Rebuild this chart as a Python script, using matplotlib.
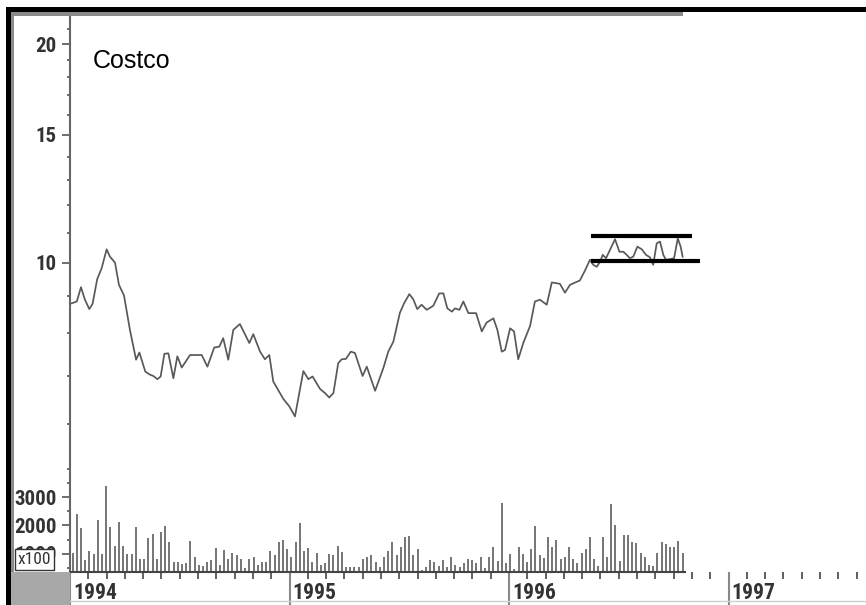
import matplotlib
matplotlib.use('Agg')
import matplotlib.pyplot as plt
import matplotlib.ticker as mticker
import matplotlib.transforms as mtransforms
from matplotlib import font_manager
from matplotlib.patches import Rectangle
from matplotlib.lines import Line2D
import numpy as np

# weekly closing prices (decimal year, price)
price_years = [
    1994.008, 1994.031, 1994.050, 1994.068, 1994.088, 1994.103, 1994.124, 1994.144,
    1994.167, 1994.182, 1994.205, 1994.223, 1994.246, 1994.273, 1994.301, 1994.316,
    1994.343, 1994.364, 1994.380, 1994.398, 1994.413, 1994.430, 1994.448, 1994.471,
    1994.489, 1994.509, 1994.547, 1994.600, 1994.626, 1994.657, 1994.680, 1994.698,
    1994.721, 1994.744, 1994.774, 1994.817, 1994.835, 1994.866, 1994.888, 1994.908,
    1994.926, 1994.972, 1994.999, 1995.025, 1995.063, 1995.086, 1995.105, 1995.139,
    1995.162, 1995.181, 1995.200, 1995.222, 1995.238, 1995.257, 1995.279, 1995.298,
    1995.333, 1995.352, 1995.390, 1995.427, 1995.450, 1995.473, 1995.503, 1995.522,
    1995.546, 1995.564, 1995.582, 1995.602, 1995.625, 1995.655, 1995.682, 1995.701,
    1995.719, 1995.740, 1995.754, 1995.774, 1995.792, 1995.815, 1995.850, 1995.876,
    1995.898, 1995.929, 1995.947, 1995.967, 1995.982, 1996.005, 1996.023, 1996.042,
    1996.065, 1996.096, 1996.118, 1996.141, 1996.172, 1996.195, 1996.232, 1996.255,
    1996.278, 1996.323, 1996.346, 1996.369, 1996.384, 1996.400, 1996.415, 1996.427,
    1996.442, 1996.460, 1996.483, 1996.503, 1996.521, 1996.536, 1996.551, 1996.566,
    1996.585, 1996.605, 1996.624, 1996.642, 1996.657, 1996.673, 1996.688, 1996.703,
    1996.715, 1996.733, 1996.752, 1996.769, 1996.782, 1996.791,
]
price_values = [
    8.80, 8.85, 9.26, 8.90, 8.64, 8.79, 9.50, 9.83,
    10.44, 10.20, 10.01, 9.33, 9.02, 8.09, 7.36, 7.53,
    7.09, 7.02, 6.99, 6.92, 6.98, 7.50, 7.51, 6.94,
    7.44, 7.18, 7.47, 7.47, 7.20, 7.65, 7.67, 7.88,
    7.36, 8.09, 8.24, 7.76, 7.98, 7.55, 7.37, 7.47,
    6.87, 6.50, 6.35, 6.15, 7.10, 6.92, 6.98, 6.71,
    6.62, 6.53, 6.62, 7.28, 7.37, 7.38, 7.55, 7.52,
    6.99, 7.20, 6.67, 7.16, 7.55, 7.79, 8.54, 8.80,
    9.06, 8.91, 8.64, 8.76, 8.62, 8.73, 9.08, 9.08,
    8.66, 8.57, 8.66, 8.62, 8.85, 8.53, 8.53, 8.05,
    8.28, 8.39, 8.09, 7.55, 7.59, 8.13, 8.05, 7.37,
    7.76, 8.19, 8.85, 8.90, 8.76, 9.40, 9.36, 9.10,
    9.33, 9.46, 9.76, 10.10, 9.94, 9.88, 10.04, 10.26,
    10.15, 10.42, 10.78, 10.36, 10.36, 10.26, 10.15, 10.20,
    10.53, 10.44, 10.26, 10.18, 9.94, 10.64, 10.70, 10.26,
    10.10, 10.12, 10.15, 10.81, 10.53, 10.20,
]

# weekly volume (x100 shares), first week of 1994 onwards
volume_first_week = 1994.012
volume = [
    1037, 2403, 1897, 777, 1096, 990, 2191, 990, 3404, 1932,
    1272, 2132, 1272, 990, 990, 1932, 813, 813, 1543, 1696,
    813, 1755, 1979, 1414, 707, 707, 636, 660, 1461, 872,
    613, 565, 707, 777, 1190, 613, 1131, 813, 1037, 942,
    813, 495, 813, 895, 589, 707, 707, 1096, 942, 1425,
    1484, 1154, 895, 1414,
    2097, 1096, 1190, 707, 1013, 589, 660, 990, 942, 1284,
    1048, 530, 530, 530, 530, 813, 895, 942, 707, 530,
    872, 1096, 1425, 954, 1225, 1579, 1626, 942, 1154, 424,
    530, 766, 707, 565, 766, 530, 872, 613, 530, 660,
    813, 766, 660, 895, 507, 872, 1225, 754, 2804, 660,
    990, 471, 1225, 990, 707, 1178, 1991, 942, 860, 1602,
    1225, 1484, 813, 895, 1249, 813, 660,
    1037, 1154, 1579, 813, 565, 1579, 895, 2745, 2003, 754,
    1661, 1661, 1414, 1366, 1037, 895, 613, 565, 1037, 1414,
    1331, 1225, 1225, 1461, 1037,
]

# trading range drawn over the last months
channel_top = 10.89
channel_bottom = 10.06
channel_top_span = (1996.372, 1996.832)
channel_bottom_span = (1996.372, 1996.870)

years = [1994, 1995, 1996, 1997]
year_labels = ['1994', '1995', '1996', '1997']


def pick_font(candidates):
    for name in candidates:
        try:
            font_manager.findfont(font_manager.FontProperties(family=name),
                                  fallback_to_default=False)
            return name
        except ValueError:
            pass
    return None


W, H = 866, 605
narrow_name = pick_font(['Liberation Sans Narrow', 'DejaVu Sans Condensed', 'Roboto Condensed'])
if narrow_name:
    tick_font = dict(family=[narrow_name, 'DejaVu Sans'], size=15, weight='bold')
    year_font = dict(family=[narrow_name, 'DejaVu Sans'], size=15.5, weight='bold')
else:
    tick_font = dict(family=['Liberation Sans', 'DejaVu Sans'], size=12.5, weight='bold')
    year_font = dict(family=['Liberation Sans', 'DejaVu Sans'], size=13, weight='bold')
label_color = '#333333'

fig = plt.figure(figsize=(W / 100, H / 100), dpi=100)
fig.patch.set_facecolor('white')

x_end = 1994 + 796 / 219.5
ax_p = fig.add_axes([70 / W, 1 - 465 / H, 796 / W, 448 / H])
ax_v = fig.add_axes([70 / W, 1 - 572 / H, 796 / W, 107 / H])

# price panel
ax_p.plot(price_years, price_values, color='#595959', lw=1.25)
ax_p.hlines([channel_top], *channel_top_span, color='black', lw=3.0)
ax_p.hlines([channel_bottom], *channel_bottom_span, color='black', lw=3.0)
ax_p.set_yscale('log')
ax_p.set_ylim(5.273, 21.79)
ax_p.set_xlim(1994, x_end)
ax_p.set_facecolor('none')
for s in ['top', 'right', 'bottom']:
    ax_p.spines[s].set_visible(False)
ax_p.spines['left'].set_color('#666666')
ax_p.spines['left'].set_linewidth(1.5)
ax_p.yaxis.set_major_locator(mticker.FixedLocator([10, 15, 20]))
ax_p.yaxis.set_major_formatter(mticker.FixedFormatter(['10', '15', '20']))
ax_p.yaxis.set_minor_locator(mticker.FixedLocator([6, 7, 8, 9, 11, 12, 13, 14, 16, 17, 18, 19, 21]))
ax_p.yaxis.set_minor_formatter(mticker.NullFormatter())
ax_p.tick_params(axis='y', which='major', length=5.5, width=1.2, color='#555555', pad=4,
                 labelcolor=label_color)
ax_p.tick_params(axis='y', which='minor', length=2.5, width=1.2, color='#555555')
ax_p.set_xticks([])
for lab in ax_p.get_yticklabels():
    lab.set_fontproperties(font_manager.FontProperties(**tick_font))

# volume panel
vol_x = volume_first_week + np.arange(len(volume)) * 7 / 365.25
ax_v.vlines(vol_x, 0, volume, color='#6a6a6a', lw=1.3)
ax_v.set_ylim(353, 4134)
ax_v.set_xlim(1994, x_end)
ax_v.set_facecolor('none')
for s in ['top', 'right']:
    ax_v.spines[s].set_visible(False)
ax_v.spines['left'].set_color('#666666')
ax_v.spines['left'].set_linewidth(1.5)
ax_v.spines['bottom'].set_color('#444444')
ax_v.spines['bottom'].set_linewidth(1.5)
ax_v.spines['bottom'].set_bounds(1994, 1996.80)
ax_v.yaxis.set_major_locator(mticker.FixedLocator([1000, 2000, 3000]))
ax_v.yaxis.set_major_formatter(mticker.FixedFormatter(['1000', '2000', '3000']))
ax_v.yaxis.set_minor_locator(mticker.FixedLocator([500, 1500, 2500, 3500, 4000]))
ax_v.tick_params(axis='y', which='major', length=5.5, width=1.2, color='#555555', pad=4,
                 labelcolor=label_color)
ax_v.tick_params(axis='y', which='minor', length=2.5, width=1.2, color='#555555')
for lab in ax_v.get_yticklabels():
    lab.set_fontproperties(font_manager.FontProperties(**tick_font))

months = [y + m / 12 for y in range(1994, 1998) for m in range(1, 12)]
months = [m for m in months if m < x_end]
ax_v.xaxis.set_major_locator(mticker.FixedLocator(years))
ax_v.xaxis.set_major_formatter(mticker.NullFormatter())
ax_v.xaxis.set_minor_locator(mticker.FixedLocator(months))
ax_v.tick_params(axis='x', which='major', length=24, width=1.5, color='#888888', direction='out')
ax_v.tick_params(axis='x', which='minor', length=5, width=1.2, color='#444444', direction='out')

trans = mtransforms.offset_copy(ax_v.get_xaxis_transform(), fig=fig, x=3, y=-21, units='dots')
for yr, lab in zip(years, year_labels):
    ax_v.text(yr, 0, lab, transform=trans, ha='left', va='center', color=label_color,
              fontproperties=font_manager.FontProperties(**year_font))

# title
fig.text(93 / W, 1 - 68 / H, 'Costco', fontsize=18, family=['Liberation Sans', 'DejaVu Sans'],
         color='black', va='baseline', ha='left')

# scale box over the 1000 label, as in the original
fig.text(34.5 / W, 1 - 559.5 / H, 'x100', fontsize=12.5, family=tick_font['family'],
         color=label_color, ha='center', va='center', zorder=10,
         bbox=dict(boxstyle='square,pad=0.18', fc='white', ec='#333333', lw=1.0))

# window frame
def px_rect(x0, y0, x1, y1, color):
    fig.patches.append(Rectangle((x0 / W, 1 - y1 / H), (x1 - x0) / W, (y1 - y0) / H,
                                 transform=fig.transFigure, color=color, lw=0, zorder=5))

px_rect(6, 7, W, 12, 'black')
px_rect(6, 7, 11, H, 'black')
px_rect(11, 12, 683, 16, '#8a8a8a')
px_rect(11, 12, 14, 572, '#8a8a8a')
px_rect(11, 572, 70, H, '#a8a8a8')
fig.add_artist(Line2D([70 / W, 1], [1 - 601 / H, 1 - 601 / H], color='#d0d0d0', lw=1))

fig.savefig('out.png', dpi=100)
